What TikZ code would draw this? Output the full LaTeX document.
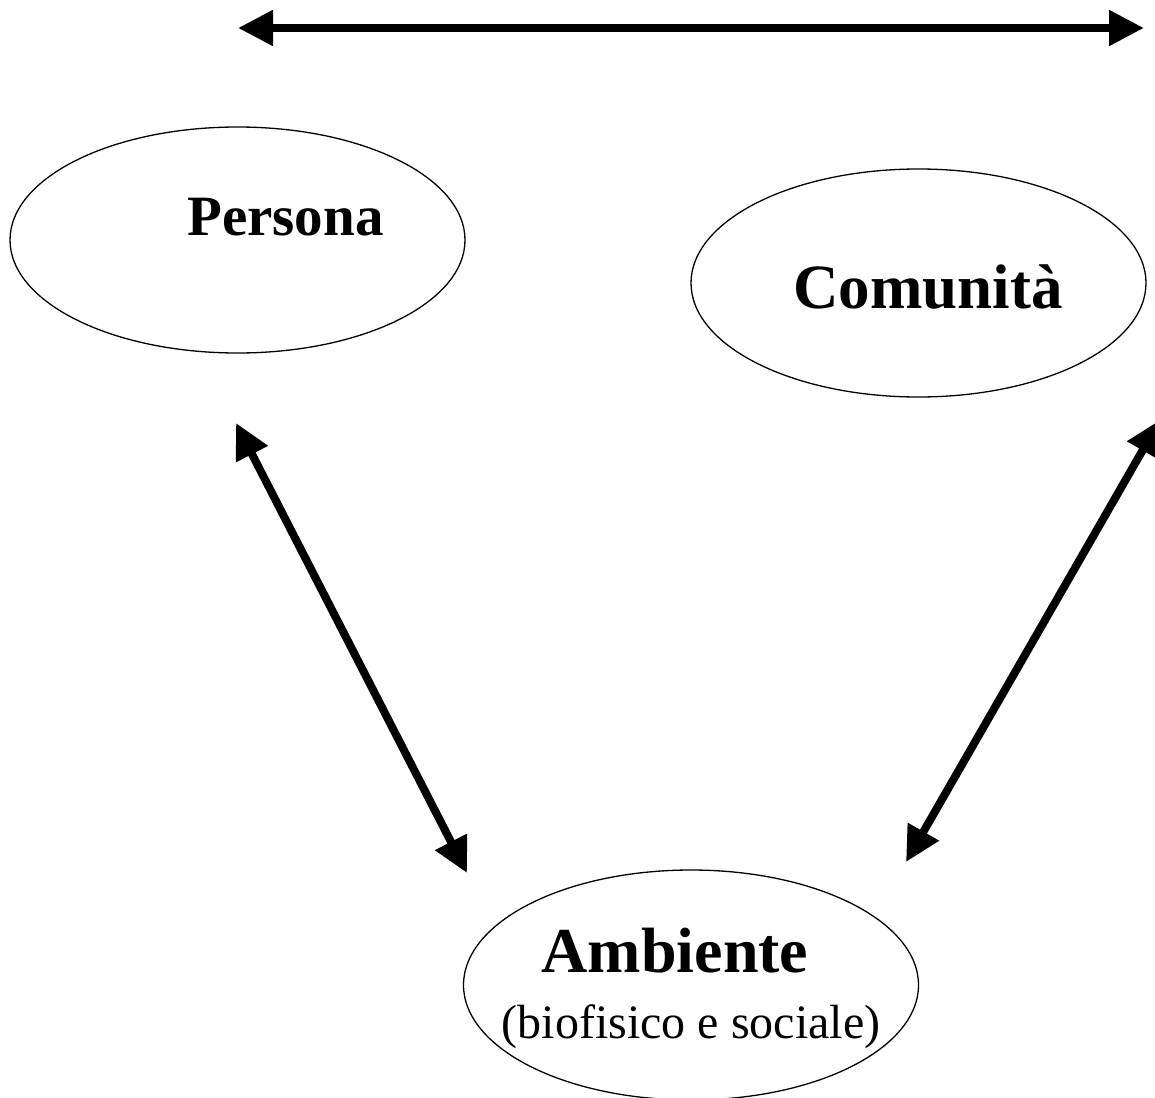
\documentclass[tikz,border=0pt]{standalone}
\usepackage{fontspec}
\setmainfont{Liberation Serif}
\usetikzlibrary{shapes.geometric,arrows.meta}
\tikzset{
  oval/.style={draw=black, line width=1.3pt, ellipse, inner sep=0pt, minimum width=455pt, minimum height=226pt},
  bigarrow/.style={line width=8pt, {Triangle[length=35pt,width=34pt]}-{Triangle[length=35pt,width=34pt]}},
  lbl/.style={anchor=base, inner sep=0pt, font=\bfseries}
}
\begin{document}
\begin{tikzpicture}[x=1pt,y=-1pt]
\useasboundingbox (0,0) rectangle (1155,1097);
% ellipses
\node[oval] (persona) at (237.5,240) {};
\node[oval, minimum height=228pt] (comunita) at (918.5,283) {};
\node[oval, minimum height=230pt] (ambiente) at (691,985) {};
% labels
\node[lbl] (tpersona) at (285.5,235) {\fontsize{57}{68}\selectfont Persona};
\node[lbl] (tcomunita) at (928,308) {\fontsize{63}{75}\selectfont Comunità};
\node[lbl] (tambiente) at (675,972) {\fontsize{64}{76}\selectfont Ambiente};
\node[anchor=base, inner sep=0pt] (tsub) at (691,1038) {\fontsize{48}{58}\selectfont (biofisico e sociale)};
% arrow end points
\coordinate (topL) at (238,28);
\coordinate (topR) at (1144,28);
\coordinate (pA) at (236,423);
\coordinate (aP) at (467,873);
\coordinate (aC) at (906,862);
\coordinate (cA) at (1160,420);
% arrows
\draw[bigarrow] (topL) -- (topR);
\draw[bigarrow] (pA) -- (aP);
\draw[bigarrow] (aC) -- (cA);
\end{tikzpicture}
\end{document}
